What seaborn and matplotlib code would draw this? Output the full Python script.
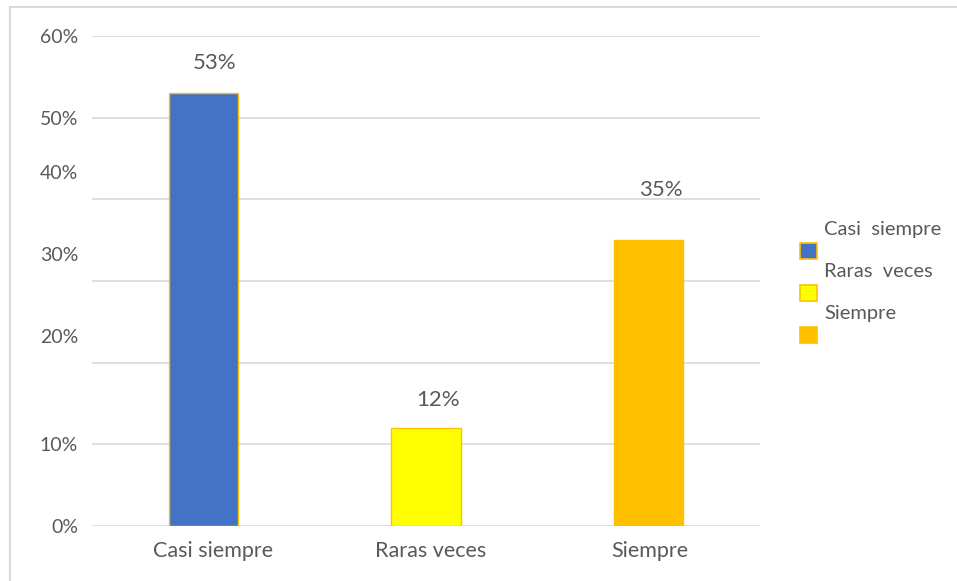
import matplotlib
matplotlib.use('Agg')
import matplotlib.pyplot as plt
import matplotlib.patches as mpatches
import matplotlib.transforms as mtransforms
import seaborn as sns
import pandas as pd

categories = ['Casi siempre', 'Raras veces', 'Siempre']
legend_labels = ['Casi  siempre', 'Raras  veces', 'Siempre']
values = [53, 12, 35]
colors = ['#4472C4', '#FFFF00', '#FFC000']
y_ticks = [0, 10, 20, 30, 40, 50, 60]

df = pd.DataFrame({'categoria': categories, 'valor': values})

sns.set_style('white')
plt.rcParams['font.family'] = ['Lato', 'DejaVu Sans']
text_color = '#595959'

fig = plt.figure(figsize=(9.57, 5.81), dpi=100)
ax = fig.add_axes([92 / 957, 1 - 526 / 581, (760 - 92) / 957, (526 - 36) / 581])

sns.barplot(data=df, x='categoria', y='valor', hue='categoria', palette=colors,
            width=0.31, edgecolor='#FFC000', linewidth=1.0, legend=False, ax=ax,
            saturation=1)

ax.set_ylim(0, 60)
ax.set_yticks(y_ticks)
ax.set_yticklabels([f'{t}%' for t in y_ticks])
ax.yaxis.grid(True, color='#D9D9D9', linewidth=1.2)
ax.set_axisbelow(True)
ax.set_xlabel('')
ax.set_ylabel('')
for s in ax.spines.values():
    s.set_visible(False)
ax.tick_params(axis='y', length=0, labelsize=14, labelcolor=text_color, pad=10)
ax.tick_params(axis='x', length=0, labelsize=15.5, labelcolor=text_color, pad=11)

# the 20/30/40 labels sit a bit above their gridlines in the original
for lab, t in zip(ax.get_yticklabels(), y_ticks):
    if t in (20, 30, 40):
        off = mtransforms.ScaledTranslation(0, 27 / 100, fig.dpi_scale_trans)
        lab.set_transform(lab.get_transform() + off)

# x labels are nudged slightly right of the bars
for lab, dx in zip(ax.get_xticklabels(), [10, 5, 1]):
    off = mtransforms.ScaledTranslation(dx / 100, 0, fig.dpi_scale_trans)
    lab.set_transform(lab.get_transform() + off)

# value labels
label_offsets = [(8, 22), (8.5, 20), (8.5, 36)]
for bar, v, (dx, dy) in zip(ax.patches, values, label_offsets):
    ax.annotate(f'{v}%', (bar.get_x() + bar.get_width() / 2, bar.get_height()),
                xytext=(dx, dy), textcoords='offset points', ha='center', va='center',
                fontsize=16, color=text_color)

# legend: text sits above its swatch
handles = [mpatches.Patch(facecolor=c, edgecolor='#FFC000', linewidth=1.2) for c in colors]
leg = fig.legend(handles, legend_labels, loc='upper left',
                 bbox_to_anchor=(792 / 957, 1 - 235 / 581),
                 frameon=False, fontsize=14.5, handlelength=0.85, handleheight=0.85,
                 labelspacing=1.2, handletextpad=0.35, borderaxespad=0)
for txt in leg.get_texts():
    txt.set_color(text_color)
    txt.set_position((0, 23))

# outer chart border (top and left only)
fig.add_artist(plt.Line2D([9.5 / 957, 1], [1 - 6.5 / 581, 1 - 6.5 / 581],
                          transform=fig.transFigure, color='#D9D9D9', linewidth=1.5))
fig.add_artist(plt.Line2D([9.5 / 957, 9.5 / 957], [0, 1 - 6.5 / 581],
                          transform=fig.transFigure, color='#D9D9D9', linewidth=1.5))

fig.savefig('out.png', dpi=100)
plt.close(fig)
